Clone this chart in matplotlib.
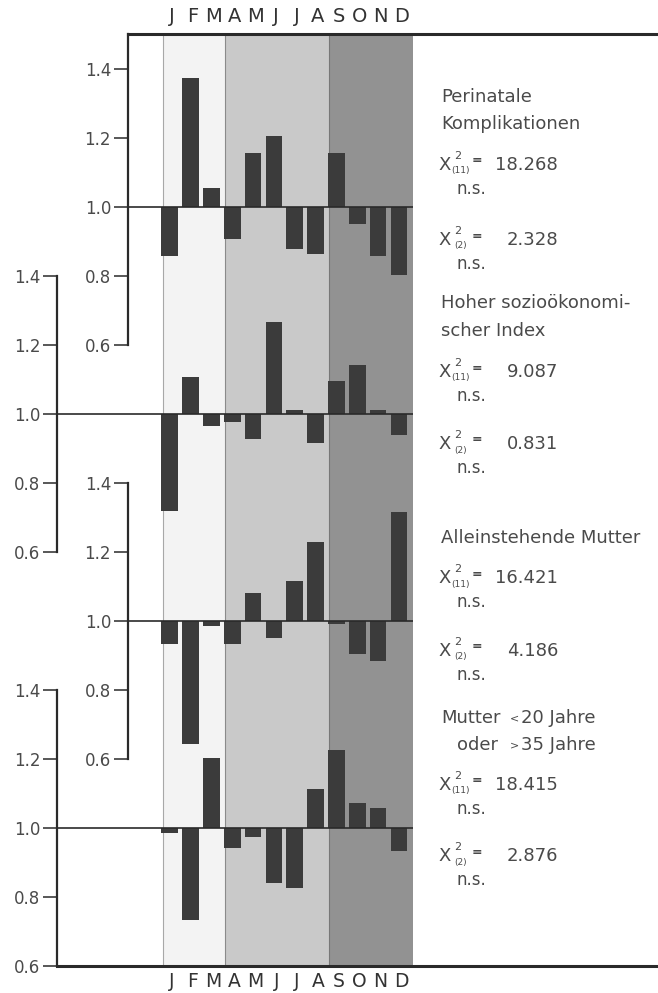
import matplotlib
matplotlib.use("Agg")
import matplotlib.pyplot as plt
import numpy as np

plt.rcParams['font.family'] = ['DejaVu Sans']

# --- data ----------------------------------------------------------------
months = ["J", "F", "M", "A", "M", "J", "J", "A", "S", "O", "N", "D"]
perinatal = [0.856, 1.373, 1.054, 0.907, 1.156, 1.205, 0.877, 0.863, 1.156, 0.951, 0.856, 0.802]
sozio = [0.718, 1.105, 0.963, 0.976, 0.926, 1.267, 1.012, 0.915, 1.096, 1.142, 1.012, 0.937]
allein = [0.934, 0.642, 0.985, 0.934, 1.080, 0.950, 1.116, 1.228, 0.992, 0.905, 0.883, 1.316]
alter = [0.985, 0.733, 1.204, 0.942, 0.973, 0.841, 0.826, 1.114, 1.225, 1.072, 1.057, 0.932]
yticks = [0.6, 0.8, 1.0, 1.2, 1.4]
seasons = [(0, 3), (3, 8), (8, 12)]

titles = [["Perinatale", "Komplikationen"],
          ["Hoher sozioökonomi-", "scher Index"],
          ["Alleinstehende Mutter"]]
chi11 = ["18.268", "9.087", "16.421", "18.415"]
chi2 = ["2.328", "0.831", "4.186", "2.876"]

panels = [perinatal, sozio, allein, alter]

# --- layout ---------------------------------------------------------------
W, H = 658, 993
fig = plt.figure(figsize=(W / 100, H / 100), dpi=100)


def fy(y):
    return 1 - y / H


rect = [40 / W, fy(966), (658 - 40) / W, (966 - 34) / H]
xlim = (-5.89, 23.78)
ylim0 = (-1.2, 1.5)
spine_x = [-1.68, -5.06, -1.68, -5.06]
line_c = "#2a2a2a"
text_c = "#4a4a4a"
bar_c = "#3b3b3b"
season_c = ["#f3f3f3", "#c9c9c9", "#929292"]

x = np.arange(len(months))
axes = []
for k, vals in enumerate(panels):
    ax = fig.add_axes(rect, label="p%d" % k)
    ax.set_xlim(xlim)
    ax.set_ylim(ylim0[0] + 0.6 * k, ylim0[1] + 0.6 * k)
    ax.patch.set_visible(False)
    for s in ["top", "right", "bottom"]:
        ax.spines[s].set_visible(False)
    ax.spines["left"].set_position(("data", spine_x[k]))
    ax.spines["left"].set_bounds(0.6, 1.4)
    ax.spines["left"].set_linewidth(1.6)
    ax.spines["left"].set_color(line_c)
    ax.set_yticks(yticks)
    ax.set_yticklabels(["%.1f" % t for t in yticks])
    ax.set_xticks([])
    ax.tick_params(axis="y", length=10, width=1.1, pad=2, labelsize=12,
                   labelcolor=text_c, color=line_c)
    ax.hlines(1.0, spine_x[k], 12, color=line_c, lw=1.2, zorder=4)
    ax.bar(x - 0.06, np.array(vals) - 1.0, bottom=1.0, width=0.8,
           align="edge", color=bar_c, zorder=3)
    axes.append(ax)

# shaded seasons on the first axes (drawn underneath)
ax0 = axes[0]
for (a, b), c in zip(seasons, season_c):
    ax0.axvspan(a, b, color=c, zorder=0, lw=0)
for xv, c in [(0, "#a8a8a8"), (3, "#8a8a8a"), (8, "#777777")]:
    ax0.axvline(xv, color=c, lw=0.8, zorder=1)

# frame lines
ax0.spines["left"].set_bounds(0.6, 1.5)
ax0.spines["top"].set_visible(True)
ax0.spines["top"].set_bounds(spine_x[0], xlim[1])
ax0.spines["top"].set_linewidth(2.2)
ax0.spines["top"].set_color(line_c)
ax3 = axes[3]
ax3.spines["bottom"].set_visible(True)
ax3.spines["bottom"].set_bounds(spine_x[3], xlim[1])
ax3.spines["bottom"].set_linewidth(2.2)
ax3.spines["bottom"].set_color(line_c)

# month letters top and bottom
ax0.set_xticks(x + 0.45)
ax0.set_xticklabels(months)
ax0.tick_params(axis="x", length=0, labelsize=14, labelcolor="#333333",
                top=True, labeltop=True, bottom=False, labelbottom=False, pad=6)
ax3.set_xticks(x + 0.45)
ax3.set_xticklabels(months)
ax3.tick_params(axis="x", length=0, labelsize=13.5, labelcolor="#333333",
                bottom=True, labelbottom=True, pad=4)

# --- right-hand annotations -------------------------------------------------
fs = 13
title_y = [[97, 124], [303, 331], [538]]
chi11_y = [165, 372, 578, 785]
chi2_y = [240, 444, 651, 856]

for lines, ys in zip(titles, title_y):
    for t, yy in zip(lines, ys):
        fig.text(441 / W, fy(yy), t, fontsize=fs, color=text_c, va="center")

fig.text(441 / W, fy(718), "Mutter", fontsize=fs, color=text_c, va="center")
fig.text(510 / W, fy(718), "<", fontsize=8, color=text_c, va="center")
fig.text(521 / W, fy(718), "20 Jahre", fontsize=fs, color=text_c, va="center")
fig.text(457 / W, fy(745), "oder", fontsize=fs, color=text_c, va="center")
fig.text(510 / W, fy(745), ">", fontsize=8, color=text_c, va="center")
fig.text(521 / W, fy(745), "35 Jahre", fontsize=fs, color=text_c, va="center")

for df, vals, ys in [("(11)", chi11, chi11_y), ("(2)", chi2, chi2_y)]:
    for v, yy in zip(vals, ys):
        fig.text(438 / W, fy(yy), "X", fontsize=fs, color=text_c, va="center")
        fig.text(458 / W, fy(yy - 9), "2", fontsize=8, color=text_c,
                 va="center", ha="center")
        fig.text(461 / W, fy(yy + 6), df, fontsize=6.5, color=text_c,
                 va="center", ha="center")
        fig.text(477 / W, fy(yy - 4), "=", fontsize=9, color=text_c,
                 va="center", ha="center", fontweight="bold")
        fig.text(558 / W, fy(yy), v, fontsize=fs, color=text_c, va="center",
                 ha="right")
        fig.text(456 / W, fy(yy + 24), "n.s.", fontsize=fs - 1, color=text_c,
                 va="center")

fig.savefig("out.png", dpi=100)
